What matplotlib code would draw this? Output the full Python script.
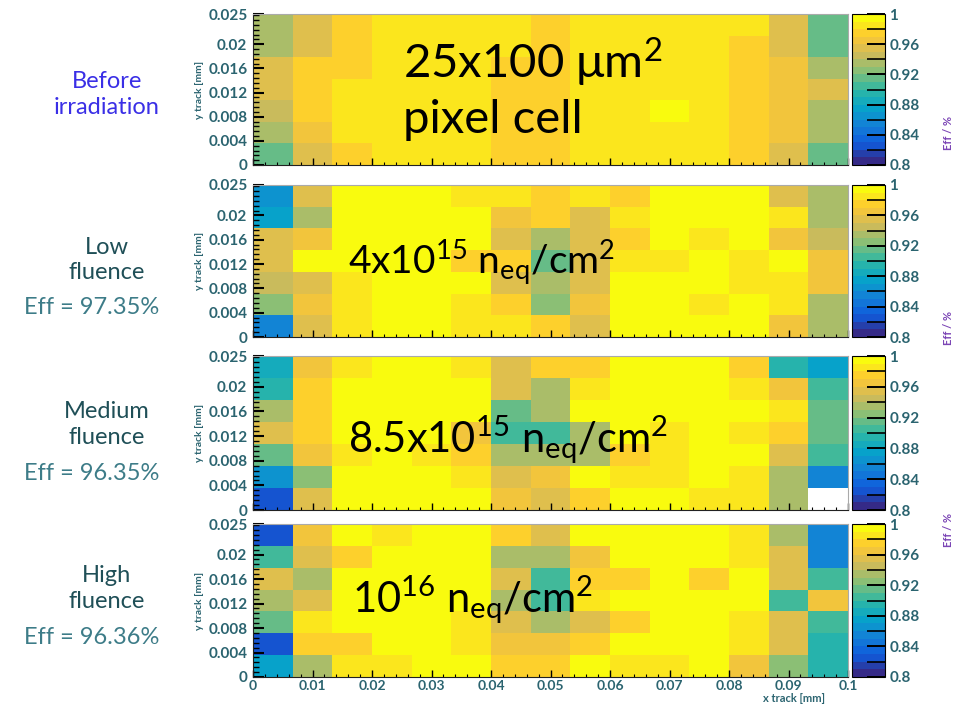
import numpy as np
import matplotlib
matplotlib.use('Agg')
import matplotlib.pyplot as plt
from matplotlib.colors import LinearSegmentedColormap
from matplotlib.ticker import MultipleLocator

plt.rcParams['font.family'] = ['Lato', 'DejaVu Sans']
plt.rcParams['mathtext.fontset'] = 'custom'
plt.rcParams['mathtext.rm'] = 'Lato'
plt.rcParams['mathtext.it'] = 'Lato:italic'
plt.rcParams['mathtext.bf'] = 'Lato:bold'

nan = np.nan

# efficiency maps, rows listed from top (y = 0.025) to bottom (y = 0), 15 x-bins
eff_before = [
    [0.930, 0.955, 0.975, 0.985, 0.985, 0.985, 0.985, 0.975, 0.985, 0.985, 0.985, 0.985, 0.985, 0.955, 0.915],
    [0.930, 0.955, 0.975, 0.985, 0.985, 0.985, 0.985, 0.975, 0.985, 0.985, 0.985, 0.985, 0.975, 0.960, 0.915],
    [0.955, 0.975, 0.975, 0.985, 0.985, 0.985, 0.975, 0.975, 0.985, 0.985, 0.985, 0.985, 0.975, 0.970, 0.940],
    [0.955, 0.975, 0.985, 0.985, 0.985, 0.985, 0.975, 0.975, 0.985, 0.985, 0.985, 0.985, 0.975, 0.970, 0.955],
    [0.950, 0.975, 0.985, 0.985, 0.985, 0.985, 0.975, 0.975, 0.985, 0.985, 0.995, 0.985, 0.975, 0.970, 0.940],
    [0.930, 0.970, 0.985, 0.985, 0.985, 0.985, 0.975, 0.975, 0.985, 0.985, 0.985, 0.985, 0.975, 0.965, 0.930],
    [0.915, 0.960, 0.975, 0.985, 0.985, 0.985, 0.975, 0.975, 0.985, 0.985, 0.985, 0.985, 0.975, 0.955, 0.915],
]
eff_low = [
    [0.870, 0.955, 0.995, 0.995, 0.995, 0.985, 0.985, 0.975, 0.985, 0.975, 0.995, 0.995, 0.995, 0.955, 0.930],
    [0.875, 0.940, 0.995, 0.995, 0.995, 0.995, 0.970, 0.975, 0.955, 0.985, 0.995, 0.995, 0.995, 0.985, 0.930],
    [0.955, 0.970, 0.995, 0.995, 0.995, 0.995, 0.955, 0.940, 0.955, 0.975, 0.995, 0.985, 0.995, 0.970, 0.945],
    [0.955, 0.995, 0.995, 0.995, 0.995, 0.975, 0.975, 0.915, 0.955, 0.985, 0.985, 0.995, 0.985, 0.995, 0.970],
    [0.945, 0.960, 0.985, 0.995, 0.995, 0.995, 0.955, 0.940, 0.955, 0.995, 0.995, 0.995, 0.985, 0.985, 0.970],
    [0.925, 0.970, 0.985, 0.995, 0.995, 0.985, 0.975, 0.920, 0.970, 0.995, 0.995, 0.985, 0.995, 0.985, 0.940],
    [0.860, 0.960, 0.985, 0.995, 0.995, 0.985, 0.985, 0.975, 0.955, 0.995, 0.995, 0.995, 0.995, 0.970, 0.930],
]
eff_medium = [
    [0.885, 0.970, 0.985, 0.995, 0.995, 0.985, 0.955, 0.975, 0.975, 0.995, 0.995, 0.995, 0.975, 0.895, 0.875],
    [0.890, 0.975, 0.995, 0.995, 0.995, 0.995, 0.955, 0.940, 0.985, 0.995, 0.995, 0.995, 0.985, 0.970, 0.900],
    [0.940, 0.975, 0.995, 0.995, 0.995, 0.995, 0.915, 0.940, 0.995, 0.995, 0.995, 0.995, 0.995, 0.985, 0.915],
    [0.955, 0.975, 0.995, 0.995, 0.995, 0.970, 0.905, 0.905, 0.940, 0.995, 0.985, 0.995, 0.985, 0.975, 0.915],
    [0.915, 0.970, 0.985, 0.995, 0.985, 0.975, 0.940, 0.940, 0.940, 0.975, 0.985, 0.995, 0.995, 0.955, 0.900],
    [0.870, 0.920, 0.995, 0.995, 0.995, 0.985, 0.955, 0.970, 0.995, 0.985, 0.985, 0.995, 0.985, 0.940, 0.855],
    [0.830, 0.955, 0.995, 0.995, 0.995, 0.995, 0.970, 0.955, 0.975, 0.995, 0.995, 0.985, 0.985, 0.940, nan],
]
eff_high = [
    [0.830, 0.970, 0.995, 0.985, 0.995, 0.995, 0.975, 0.955, 0.995, 0.995, 0.995, 0.995, 0.985, 0.940, 0.860],
    [0.900, 0.955, 0.975, 0.995, 0.995, 0.995, 0.940, 0.930, 0.970, 0.995, 0.995, 0.995, 0.985, 0.960, 0.860],
    [0.955, 0.930, 0.995, 0.995, 0.995, 0.995, 0.955, 0.905, 0.975, 0.975, 0.995, 0.975, 0.995, 0.955, 0.900],
    [0.940, 0.955, 0.995, 0.995, 0.995, 0.995, 0.930, 0.905, 0.985, 0.995, 0.995, 0.995, 0.995, 0.905, 0.970],
    [0.915, 0.985, 0.995, 0.995, 0.995, 0.985, 0.955, 0.940, 0.955, 0.975, 0.995, 0.995, 0.985, 0.955, 0.905],
    [0.830, 0.975, 0.975, 0.995, 0.995, 0.985, 0.970, 0.970, 0.975, 0.995, 0.995, 0.995, 0.985, 0.955, 0.895],
    [0.880, 0.930, 0.985, 0.985, 0.995, 0.995, 0.975, 0.975, 0.995, 0.985, 0.985, 0.995, 0.965, 0.920, 0.895],
]

maps = [eff_before, eff_low, eff_medium, eff_high]
overlay = ['25x100 $\\mathrm{\\mu}$m$^{2}$', '4x10$^{15}$ n$_{\\mathrm{eq}}$/cm$^{2}$',
           '8.5x10$^{15}$ n$_{\\mathrm{eq}}$/cm$^{2}$', '10$^{16}$ n$_{\\mathrm{eq}}$/cm$^{2}$']
names = [['Before', 'irradiation'], ['Low', 'fluence'], ['Medium', 'fluence'], ['High', 'fluence']]
eff_text = [None, 'Eff = 97.35%', 'Eff = 96.35%', 'Eff = 96.36%']

x_edges = np.linspace(0, 0.1, 16)
y_edges = np.linspace(0, 0.025, 8)
yticks = [0, 0.004, 0.008, 0.012, 0.016, 0.02, 0.025]
ytick_labels = ['0', '0.004', '0.008', '0.012', '0.016', '0.02', '0.025']
xticks = [0, 0.01, 0.02, 0.03, 0.04, 0.05, 0.06, 0.07, 0.08, 0.09, 0.1]
xtick_labels = ['0', '0.01', '0.02', '0.03', '0.04', '0.05', '0.06', '0.07', '0.08', '0.09', '0.1']
cbar_ticks = [0.8, 0.84, 0.88, 0.92, 0.96, 1.0]
cbar_labels = ['0.8', '0.84', '0.88', '0.92', '0.96', '1']

# ROOT kBird palette with 20 contour levels
stops = [0.0, 0.125, 0.25, 0.375, 0.5, 0.625, 0.75, 0.875, 1.0]
red = [0.2082, 0.0592, 0.0780, 0.0232, 0.1802, 0.5301, 0.8186, 0.9956, 0.9764]
green = [0.1664, 0.3599, 0.5041, 0.6419, 0.7178, 0.7492, 0.7328, 0.7862, 0.9832]
blue = [0.5293, 0.8684, 0.8385, 0.7914, 0.6425, 0.4662, 0.3499, 0.1968, 0.0539]
bird = LinearSegmentedColormap.from_list('bird', list(zip(stops, zip(red, green, blue))), N=20)

teal = '#2b6470'
fig = plt.figure(figsize=(9.6, 7.04), dpi=100)
W, H = 960.0, 704.0

panels = [(14, 165), (185, 337), (356, 510), (524, 677)]
left_pos = [(82, 107, None), (247, 273, 307), (412, 437, 473), (575, 602, 637)]
text_pos = [(403, 62), (348, 262), (348, 440), (352, 600)]
text_size = [34, 28, 30, 30]

for i, (top, bot) in enumerate(panels):
    ax = fig.add_axes([253 / W, 1 - bot / H, 595 / W, (bot - top) / H])
    z = np.array(maps[i])[::-1]
    mesh = ax.pcolormesh(x_edges, y_edges, z, cmap=bird, vmin=0.8, vmax=1.0)
    ax.set_xlim(0, 0.1)
    ax.set_ylim(0, 0.025)
    ax.set_yticks(yticks)
    ax.set_yticklabels(ytick_labels)
    ax.yaxis.set_minor_locator(MultipleLocator(0.0008))
    ax.set_xticks(xticks)
    ax.xaxis.set_minor_locator(MultipleLocator(0.002))
    if i == 3:
        ax.set_xticklabels(xtick_labels)
    else:
        ax.set_xticklabels([])
    ax.tick_params(axis='y', which='major', direction='in', length=8, width=1.5, color='black',
                   labelsize=11, labelcolor=teal, pad=4)
    ax.tick_params(axis='y', which='minor', direction='in', length=4, width=1.0, color='black')
    ax.tick_params(axis='x', which='major', direction='in', length=5, width=1.0, color='black',
                   labelsize=10, labelcolor=teal, pad=2)
    ax.tick_params(axis='x', which='minor', direction='in', length=2.5, width=0.8, color='black')
    for lab in ax.get_yticklabels() + ax.get_xticklabels():
        lab.set_fontweight('bold')
    for side in ['top', 'right']:
        ax.spines[side].set_color('#aaaaaa')
        ax.spines[side].set_linewidth(0.8)
    ax.spines['left'].set_color('#222222')
    ax.spines['bottom'].set_color('#222222')
    ax.set_ylabel('y track [mm]', fontsize=7.5, fontweight='bold', color=teal, labelpad=3)
    if i == 3:
        ax.set_xlabel('x track [mm]', fontsize=8, fontweight='bold', color=teal, labelpad=0)
        ax.xaxis.set_label_coords(0.91, -0.105)

    tx, ty = text_pos[i]
    fig.text(tx / W, 1 - ty / H, overlay[i], fontsize=text_size[i], color='black', ha='left', va='center')
    if i == 0:
        fig.text(tx / W, 1 - 120 / H, 'pixel cell', fontsize=34, color='black', ha='left', va='center')

    cax = fig.add_axes([852 / W, 1 - bot / H, 33 / W, (bot - top) / H])
    cb = fig.colorbar(mesh, cax=cax)
    cb.set_ticks(cbar_ticks)
    cb.set_ticklabels(cbar_labels)
    cb.ax.yaxis.set_minor_locator(MultipleLocator(0.02))
    cb.ax.tick_params(which='major', direction='in', length=13, width=1.4, color='black',
                      labelsize=11, labelcolor=teal, pad=3)
    cb.ax.tick_params(which='minor', direction='in', length=13, width=1.2, color='black')
    for lab in cb.ax.get_yticklabels():
        lab.set_fontweight('bold')
    cb.outline.set_linewidth(0.8)

    y1, y2, y3 = left_pos[i]
    ncol = '#3a2fe6' if i == 0 else '#1f4f57'
    fig.text(107 / W, 1 - y1 / H, names[i][0], fontsize=17, color=ncol, ha='center', va='center')
    fig.text(107 / W, 1 - y2 / H, names[i][1], fontsize=17, color=ncol, ha='center', va='center')
    if y3 is not None:
        fig.text(92 / W, 1 - y3 / H, eff_text[i], fontsize=17, color='#3d7c88', ha='center',
                 va='center')

# z-axis titles at the right edge
for yc in [133, 328, 530]:
    fig.text(949 / W, 1 - yc / H, 'Eff / %', fontsize=8, fontweight='bold', color='#7b45b5',
             rotation=90, ha='center', va='center')

fig.savefig('out.png', dpi=100)
